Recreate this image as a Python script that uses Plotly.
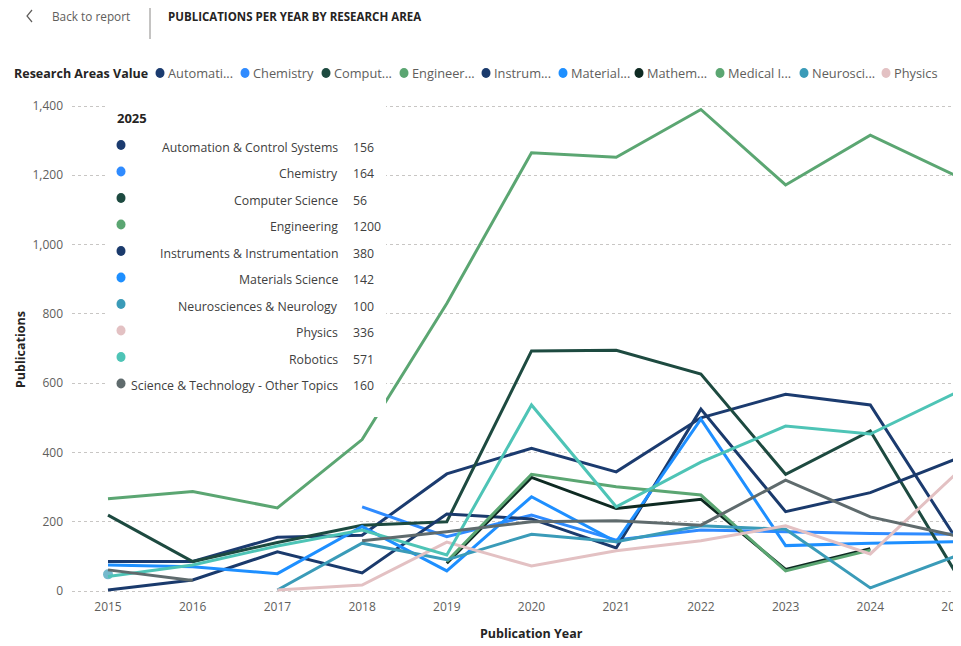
import plotly.graph_objects as go

# ---------------- data ----------------
years = [2015, 2016, 2017, 2018, 2019, 2020, 2021, 2022, 2023, 2024, 2025]

automation = [85, 85, 155, 161, 338, 412, 344, 500, 568, 537, 156]
chemistry = [None, None, None, 243, 157, 219, 147, 176, 171, 166, 164]
computer_science = [219, 85, 140, 190, 200, 693, 695, 626, 337, 462, 56]
engineering = [266, 287, 240, 437, 830, 1265, 1252, 1390, 1172, 1316, 1200]
instruments = [3, 32, 113, 52, 222, 208, 124, 525, 229, 284, 380]
materials = [75, 70, 50, 186, 58, 272, 142, 496, 131, 138, 142]
mathematics = [None, None, None, None, 80, 328, 238, 265, 62, 122, None]
medical = [None, None, None, None, 85, 337, 301, 277, 58, 118, None]
neuroscience = [48, None, 3, 138, 90, 164, 142, 188, 178, 9, 100]
physics = [None, None, 3, 17, 141, 72, 116, 145, 188, 107, 336]
robotics = [42, 75, 130, 176, 104, 537, 243, 372, 476, 453, 571]
st_other = [61, 30, None, 145, 171, 200, 203, 190, 320, 214, 160]

series_names = [
    "Automation & Control Systems", "Chemistry", "Computer Science", "Engineering",
    "Instruments & Instrumentation", "Materials Science", "Mathematics",
    "Medical Informatics", "Neurosciences & Neurology", "Physics", "Robotics",
    "Science & Technology - Other Topics",
]
series_values = [automation, chemistry, computer_science, engineering, instruments,
                 materials, mathematics, medical, neuroscience, physics, robotics, st_other]

legend_labels = ["Automati...", "Chemistry", "Comput...", "Engineer...", "Instrum...",
                 "Material...", "Mathem...", "Medical I...", "Neurosci...", "Physics"]

y_ticks = [0, 200, 400, 600, 800, 1000, 1200, 1400]
tooltip_year = 2025

# ---------------- styles ----------------
colors = ["#1B3B6F", "#2F8BFF", "#1D4A40", "#5BA672", "#1A3A6C", "#1E8FFF",
          "#0E2A22", "#5BA672", "#3A9BB8", "#E3C1C3", "#4EC4B6", "#5F6B6D"]

FONT = "Open Sans"
PAGE_OFF = 8                      # browser body margin
W, H = 961 - PAGE_OFF, 646 - PAGE_OFF
# plot area in page (reference) pixels
L, R, T, B = 72, 961, 96, 594


def px(x):
    return (x - L) / (R - L)


def py(y):
    return (B - y) / (B - T)


def dot(cx, cy, d, col, w=None):
    w = d if w is None else w
    return dict(type="circle", xref="paper", yref="paper", layer="above",
                x0=px(cx - w / 2), x1=px(cx + w / 2), y0=py(cy + d / 2), y1=py(cy - d / 2),
                fillcolor=col, line=dict(width=0))


fig = go.Figure()

for name, vals, col in zip(series_names, series_values, colors):
    sizes = []
    for i, v in enumerate(vals):
        prev_ok = i > 0 and vals[i - 1] is not None
        next_ok = i < len(vals) - 1 and vals[i + 1] is not None
        sizes.append(10 if (v is not None and not prev_ok and not next_ok) else 0)
    fig.add_trace(go.Scatter(
        x=years, y=vals, name=name, mode="lines+markers",
        line=dict(color=col, width=3),
        marker=dict(size=sizes, color=col, line=dict(width=0)),
        connectgaps=False, hoverinfo="skip",
    ))

annotations = []
shapes = []

# header: back chevron icon, link text, separator, title
shapes.append(dict(type="path", xref="paper", yref="paper",
                   path="M %f,%f L %f,%f L %f,%f" % (px(32), py(10), px(27), py(16), px(32), py(22)),
                   line=dict(color="#605E5C", width=1.2)))
annotations.append(dict(x=px(50), y=py(16), xref="paper", yref="paper", text="Back to report",
                        showarrow=False, xanchor="left", yanchor="middle",
                        font=dict(family=FONT, size=11.8, color="#605E5C")))
shapes.append(dict(type="line", xref="paper", yref="paper", x0=px(150), x1=px(150),
                   y0=py(0), y1=py(39), line=dict(color="#8A8886", width=1)))
annotations.append(dict(x=px(166), y=py(16), xref="paper", yref="paper",
                        text="<b>PUBLICATIONS PER YEAR BY RESEARCH AREA</b>",
                        showarrow=False, xanchor="left", yanchor="middle",
                        font=dict(family=FONT, size=11.5, color="#252423")))

# legend
annotations.append(dict(x=px(12), y=py(73), xref="paper", yref="paper",
                        text="<b>Research Areas Value</b>",
                        showarrow=False, xanchor="left", yanchor="middle",
                        font=dict(family=FONT, size=12.5, color="#252423")))
legend_dot_x = [160, 245, 326, 404, 486, 563, 639, 720, 804, 886]
for lab, col, dx in zip(legend_labels, colors, legend_dot_x):
    shapes.append(dot(dx, 73, 10, col, 9))
    annotations.append(dict(x=px(dx + 6), y=py(73), xref="paper", yref="paper", text=lab,
                            showarrow=False, xanchor="left", yanchor="middle",
                            font=dict(family=FONT, size=12.8, color="#605E5C")))

# axis titles
annotations.append(dict(x=px(20), y=py(350), xref="paper", yref="paper", text="<b>Publications</b>",
                        showarrow=False, xanchor="center", yanchor="middle", textangle=-90,
                        font=dict(family=FONT, size=12.5, color="#252423")))
annotations.append(dict(x=px(531), y=py(633), xref="paper", yref="paper", text="<b>Publication Year</b>",
                        showarrow=False, xanchor="center", yanchor="middle",
                        font=dict(family=FONT, size=12.5, color="#252423")))

# tooltip box
shapes.append(dict(type="rect", xref="paper", yref="paper", layer="above",
                   x0=px(106), x1=px(386), y0=py(417), y1=py(97),
                   fillcolor="white", line=dict(width=0)))
annotations.append(dict(x=px(115), y=py(118), xref="paper", yref="paper", text="<b>%d</b>" % tooltip_year,
                        showarrow=False, xanchor="left", yanchor="middle",
                        font=dict(family=FONT, size=13, color="#252423")))
idx = years.index(tooltip_year)
row = 0
for name, vals, col in zip(series_names, series_values, colors):
    v = vals[idx]
    if v is None:
        continue
    ry = 147 + row * 26.5
    shapes.append(dot(121, ry - 2, 10, col, 9))
    annotations.append(dict(x=px(340), y=py(ry), xref="paper", yref="paper", text=name,
                            showarrow=False, xanchor="right", yanchor="middle",
                            font=dict(family=FONT, size=12.3, color="#404040")))
    annotations.append(dict(x=px(351), y=py(ry), xref="paper", yref="paper", text=str(v),
                            showarrow=False, xanchor="left", yanchor="middle",
                            font=dict(family=FONT, size=12.3, color="#404040")))
    row += 1

x0_year = 2015 - (108 - L) / 84.7
x1_year = 2015 + (R - 108) / 84.7
ppu = (591 - 106) / 1400.0
y_min = -(B - 591) / ppu
y_max = 1400 + (106 - T) / ppu

fig.update_layout(
    width=W, height=H,
    margin=dict(l=L - PAGE_OFF, r=0, t=T - PAGE_OFF, b=646 - B, autoexpand=False),
    paper_bgcolor="white", plot_bgcolor="white",
    showlegend=False,
    font=dict(family=FONT, color="#605E5C"),
    xaxis=dict(range=[x0_year, x1_year], tickvals=years, ticktext=[str(y) for y in years],
               showgrid=False, zeroline=False, showline=False, ticks="",
               automargin=False, ticklabeloverflow="allow",
               tickfont=dict(family=FONT, size=12, color="#605E5C"), ticklabelstandoff=4),
    yaxis=dict(range=[y_min, y_max], tickvals=y_ticks, tickformat=",",
               showgrid=True, gridcolor="#C8C6C4", griddash="dot", gridwidth=1,
               zeroline=False, showline=False, ticks="", automargin=False,
               tickfont=dict(family=FONT, size=12, color="#605E5C"), ticklabelstandoff=8),
    annotations=annotations, shapes=shapes,
)

fig.write_html("out.html")
